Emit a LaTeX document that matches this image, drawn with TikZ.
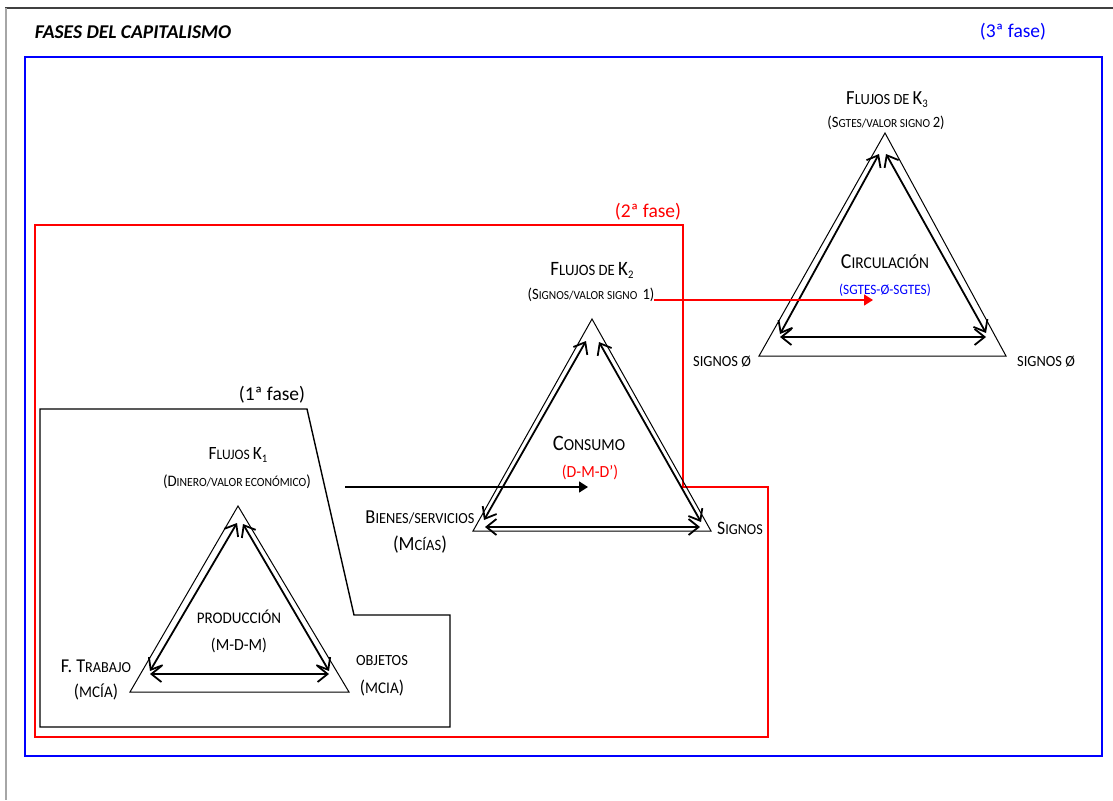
\documentclass[tikz,border=0pt]{standalone}
\usepackage{fontspec}
\setmainfont{Carlito}[FakeStretch=0.93]
\newfontfamily\plainfont{Carlito}
\usetikzlibrary{arrows.meta}
\newcommand\fs[1]{\fontsize{#1}{#1}\selectfont}
\newcommand\sub[1]{\raisebox{-3pt}{\fs{11.5}#1}}
\begin{document}
\begin{tikzpicture}[x=1pt,y=-1pt,
  frameblue/.style={draw=blue, line width=1.6pt},
  framered/.style={draw=red, line width=1.5pt},
  phaseone/.style={draw=black, line width=1.4pt, line join=miter},
  tri/.style={draw=black, line width=1pt, line join=miter},
  flow/.style={line width=1.8pt,
    {Straight Barb[length=10pt,width=16pt]}-{Straight Barb[length=10pt,width=16pt]}},
  feed/.style={line width=1.6pt, -{Triangle[length=9pt,width=11pt]}},
  lbl/.style={inner sep=0pt, anchor=center}]
\useasboundingbox (0,0) rectangle (1113,800);

% page frame
\draw[black!75, line width=2pt] (5,8) -- (1113,8);
\draw[black!35, line width=1.4pt] (6,8) -- (6,800);

% phase frames
\draw[frameblue] (25,57) rectangle (1102,756);
\draw[framered] (35,225) -- (683,225) -- (683,487) -- (768,487) -- (768,737) -- (35,737) -- cycle;
\draw[phaseone] (40,409) -- (307,409) -- (354,615) -- (450,615) -- (450,727) -- (40,727) -- cycle;

% headings
\node[lbl] (title) at (133,32) {\plainfont\fs{19.5}\bfseries\itshape FASES DEL CAPITALISMO};
\node[lbl, text=blue] (fase3) at (1013,32) {\plainfont\fs{19.5}(3ª fase)};
\node[lbl, text=red] (fase2) at (648,212) {\plainfont\fs{19.5}(2ª fase)};
\node[lbl] (fase1) at (272,395) {\plainfont\fs{19.5}(1ª fase)};

% ---------- production triangle ----------
\coordinate (t1a) at (238,506);
\coordinate (t1l) at (130,692);
\coordinate (t1r) at (349,692);
\draw[tri] (t1a) -- (t1l) -- (t1r) -- cycle;
\coordinate (p1tl) at (237,523);
\coordinate (p1tr) at (243,524);
\coordinate (p1bl) at (150,671);
\coordinate (p1br) at (329,671);
\coordinate (p1l) at (150,674);
\coordinate (p1r) at (329,674);
\draw[flow] (p1tl) -- (p1bl);
\draw[flow] (p1tr) -- (p1br);
\draw[flow] (p1l) -- (p1r);

\node[lbl] (k1) at (238,455) {\fs{18.7}F\fs{14.5}LUJOS \fs{18.7}K\sub{1}};
\node[lbl] (k1v) at (237,482) {\fs{16}(D\fs{12.5}INERO/VALOR ECONÓMICO\fs{16})};
\node[lbl] (prod) at (239,617) {\fs{16.2}PRODUCCIÓN};
\node[lbl] (mdm) at (239,645) {\fs{17}(M-D-M)};
\node[lbl] (trab) at (96,666) {\fs{19.6}F. T\fs{15.3}RABAJO};
\node[lbl] (trabm) at (96,692) {\fs{18.5}(\fs{16.3}MCÍA\fs{18.5})};
\node[lbl] (obj) at (382,661) {\fs{15.5}OBJETOS};
\node[lbl] (objm) at (382,688) {\fs{18.5}(\fs{16.3}MCIA\fs{18.5})};

% ---------- consumption triangle ----------
\coordinate (t2a) at (592,319);
\coordinate (t2l) at (473,531);
\coordinate (t2r) at (711,531);
\draw[tri] (t2a) -- (t2l) -- (t2r) -- cycle;
\coordinate (p2tl) at (586,341);
\coordinate (p2tr) at (599,342);
\coordinate (p2bl) at (484,520);
\coordinate (p2br) at (701,522);
\coordinate (p2l) at (485,527);
\coordinate (p2r) at (700,527);
\draw[flow] (p2tl) -- (p2bl);
\draw[flow] (p2tr) -- (p2br);
\draw[flow] (p2l) -- (p2r);

\node[lbl] (k2) at (592,270) {\fs{20.4}F\fs{15.8}LUJOS DE \fs{20.4}K\sub{2}};
\node[lbl] (k2v) at (591,295) {\fs{15.7}(S\fs{12.3}IGNOS/VALOR SIGNO\ \ \fs{15.7}1)};
\node[lbl] (cons) at (589,443) {\fs{22}C\fs{16.8}ONSUMO};
\node[lbl, text=red] (dmd) at (590,472) {\fs{17}(D-M-D’)};
\node[lbl] (bien) at (420,517) {\fs{19.8}B\fs{15.4}IENES/SERVICIOS};
\node[lbl] (bienm) at (420,545) {\fs{20}(M\fs{15.7}CÍAS\fs{20})};
\node[lbl] (sig2) at (740,528) {\fs{19}S\fs{15.2}IGNOS};

% ---------- circulation triangle ----------
\coordinate (t3a) at (885,133);
\coordinate (t3l) at (759,356);
\coordinate (t3r) at (1006,356);
\draw[tri] (t3a) -- (t3l) -- (t3r) -- cycle;
\coordinate (p3tl) at (879,154);
\coordinate (p3tr) at (886,154);
\coordinate (p3bl) at (780,334);
\coordinate (p3br) at (986,333);
\coordinate (p3l) at (780,337);
\coordinate (p3r) at (986,337);
\draw[flow] (p3tl) -- (p3bl);
\draw[flow] (p3tr) -- (p3br);
\draw[flow] (p3l) -- (p3r);

\node[lbl] (k3) at (887,100) {\fs{20}F\fs{15.5}LUJOS DE \fs{20}K\sub{3}};
\node[lbl] (k3v) at (886,123) {\fs{15.7}(S\fs{12.3}GTES/VALOR SIGNO \fs{15.7}2)};
\node[lbl] (circ) at (885,262) {\fs{21.4}C\fs{16.5}IRCULACIÓN};
\node[lbl, text=blue] (sgt) at (885,290) {\fs{14.3}(SGTES-Ø-SGTES)};
\node[lbl] (sig3l) at (722,362) {\fs{15.5}SIGNOS Ø};
\node[lbl] (sig3r) at (1046,362) {\fs{15.5}SIGNOS Ø};

% ---------- flows between phases ----------
\coordinate (f1s) at (345,487);
\coordinate (f1e) at (588,487);
\draw[feed, black] (f1s) -- (f1e);
\coordinate (f2s) at (654,300);
\coordinate (f2e) at (873,300);
\draw[feed, red, line width=1.5pt] (f2s) -- (f2e);
\end{tikzpicture}
\end{document}
